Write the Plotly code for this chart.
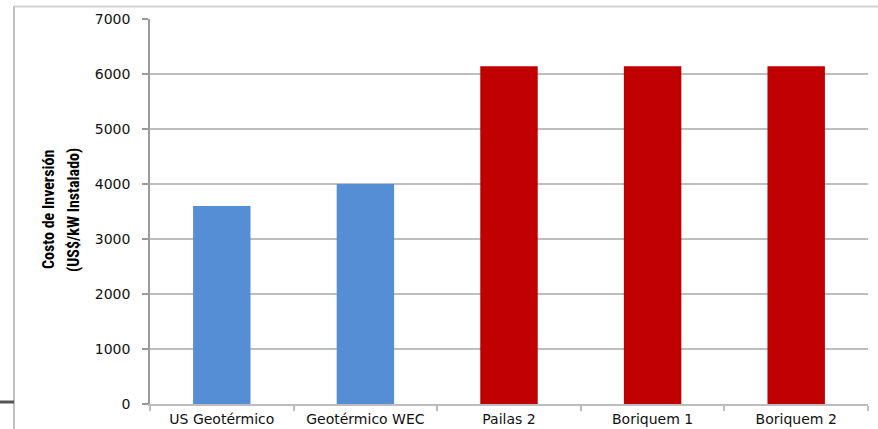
import plotly.graph_objects as go

# Investment cost per installed kW for each project
categories = ["US Geotérmico", "Geotérmico WEC", "Pailas 2", "Boriquem 1", "Boriquem 2"]
costs = [3600, 4000, 6140, 6140, 6140]
bar_colors = ["#558ED5", "#558ED5", "#C00000", "#C00000", "#C00000"]
y_ticks = [0, 1000, 2000, 3000, 4000, 5000, 6000, 7000]
y_title_lines = ["Costo de Inversión", "(US$/kW Instalado)"]

W, H = 878, 429
L, R, T, B = 150, 10, 19, 25
pw, ph = W - L - R, H - T - B


def px_x(x):
    return (x - L) / pw


def px_y(y):
    return (H - B - y) / ph


fig = go.Figure(
    go.Bar(
        x=categories,
        y=costs,
        marker=dict(color=bar_colors, line=dict(width=0)),
        hoverinfo="x+y",
    )
)

tick_font = dict(family="DejaVu Sans, Verdana, sans-serif", size=14, color="#111111")
title_font = dict(
    family="Liberation Sans Narrow, Arial Narrow, Roboto Condensed, sans-serif",
    size=16,
    color="#000000",
)

fig.update_layout(
    width=W,
    height=H,
    margin=dict(l=L, r=R, t=T, b=B, pad=0),
    paper_bgcolor="white",
    plot_bgcolor="white",
    bargap=0.6,
    showlegend=False,
    xaxis=dict(
        type="category",
        range=[-0.5, 4.5],
        automargin=False,
        showgrid=False,
        showline=True,
        linecolor="#BDBDBD",
        linewidth=1.5,
        ticks="outside",
        tickson="boundaries",
        ticklen=5,
        tickcolor="#BDBDBD",
        tickwidth=1.5,
        tickfont=tick_font,
        ticklabelstandoff=1,
    ),
    yaxis=dict(
        range=[0, 7000],
        automargin=False,
        tickvals=y_ticks,
        ticktext=[str(v) for v in y_ticks],
        showgrid=True,
        gridcolor="#BEBEBE",
        gridwidth=2,
        zeroline=False,
        showline=True,
        linecolor="#9A9A9A",
        linewidth=1.5,
        ticks="outside",
        ticklen=6,
        tickcolor="#9A9A9A",
        tickwidth=1.5,
        tickfont=tick_font,
        ticklabelstandoff=9,
    ),
    annotations=[
        dict(
            text=f"<b>{line}</b>",
            x=px_x(xc),
            y=px_y(210),
            xref="paper",
            yref="paper",
            xanchor="center",
            yanchor="middle",
            textangle=-90,
            showarrow=False,
            font=title_font,
        )
        for line, xc in zip(y_title_lines, [48, 73])
    ],
    shapes=[
        # slide frame: left edge and top edge
        dict(type="line", xref="paper", yref="paper",
             x0=px_x(14), x1=px_x(14), y0=px_y(6), y1=px_y(429),
             line=dict(color="#AAAAAA", width=1.5)),
        dict(type="line", xref="paper", yref="paper",
             x0=px_x(14), x1=px_x(878), y0=px_y(6.5), y1=px_y(6.5),
             line=dict(color="#D4D4D4", width=2)),
        # small dark tab on the left frame edge
        dict(type="line", xref="paper", yref="paper",
             x0=px_x(0), x1=px_x(14), y0=px_y(402), y1=px_y(402),
             line=dict(color="#555555", width=3)),
    ],
)

fig.write_html("out.html")
